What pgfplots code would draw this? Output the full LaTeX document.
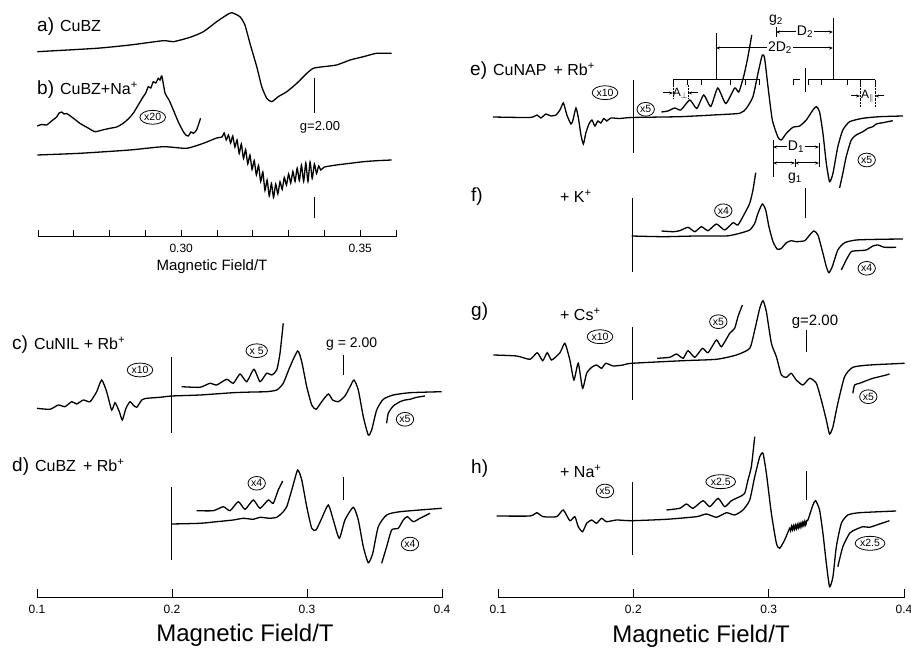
\documentclass[border=0pt]{standalone}
\usepackage{pgfplots}
\pgfplotsset{compat=1.18}
\usepackage{fontspec}
\setmainfont{Liberation Sans}
\usetikzlibrary{shapes.geometric,arrows.meta}
\newcommand{\fs}[1]{\fontsize{#1}{#1}\selectfont}
\newcommand{\pl}[2]{{\fs{19}#1}\hspace{6pt}{\fs{16}#2}}
\pgfplotsset{
  spec/.style={scale only axis, clip=false, anchor=south west,
    axis x line*=bottom, axis y line=none, xtick align=inside,
    axis line style={line width=1pt,-}, major tick style={line width=1pt,black},
    xticklabel style={font=\fs{12}, yshift=-4pt},
    cycle list={{black,mark=none,solid}},
    every axis plot/.append style={line width=1.3pt, smooth, tension=0.35}},
}
\tikzset{
  ov/.style={draw, ellipse, inner xsep=0.6pt, inner ysep=1.2pt, line width=0.8pt, font=\fs{10.5}},
  ml/.style={line width=1pt},
  tx/.style={inner sep=0pt},
  >={Stealth[length=4pt,width=3pt]},
}
\begin{document}
\begin{tikzpicture}[x=1pt,y=1pt]
\path[use as bounding box] (0,0) rectangle (911,648);
% ---------------- top-left: a, b
\begin{axis}[spec, at={(38pt,411pt)}, width=358pt, height=237pt,
  xmin=0.26, xmax=0.36, ymin=-237, ymax=0, major tick length=7pt,
  xtick={0.26,0.27,0.28,0.29,0.30,0.31,0.32,0.33,0.34,0.35,0.36},
  xticklabels={,,,,0.30,,,,,0.35,}]
\addplot coordinates {(0.2598,-51.7)(0.2764,-48.3)(0.2857,-45)(0.2950,-40.7)(0.2978,-41.7)(0.3025,-37.3)(0.3062,-31.7)(0.3099,-21.7)(0.3127,-15)(0.3141,-12.7)(0.3164,-16.7)(0.3178,-25)(0.3192,-43.3)(0.3211,-66.7)(0.3225,-86.7)(0.3239,-98.3)(0.3253,-101.7)(0.3271,-96.7)(0.3295,-91.7)(0.3323,-83.3)(0.3351,-73.3)(0.3369,-68.3)(0.3397,-66.7)(0.3434,-65)(0.3472,-60)(0.3509,-56.7)(0.3546,-53.3)(0.3588,-53.3)};
\addplot coordinates {(0.2598,-126)(0.2610,-124.5)(0.2624,-125)(0.2638,-121)(0.2652,-117)(0.2659,-113)(0.2666,-112)(0.2673,-114)(0.2680,-113.5)(0.2698,-118)(0.2717,-123.3)(0.2740,-128)(0.2759,-131.7)(0.2780,-130)(0.2801,-128.3)(0.2820,-127)(0.2838,-123.3)(0.2852,-119)(0.2866,-113.3)(0.2880,-105)(0.2894,-96.7)(0.2901,-93)(0.2908,-86.7)(0.2915,-88)(0.2922,-81.7)(0.2929,-83)(0.2936,-78.3)(0.2941,-80)(0.2946,-76)(0.2955,-93.3)(0.2966,-100)(0.2978,-110)(0.2992,-122)(0.3006,-131.7)(0.3013,-135)(0.3020,-136)(0.3027,-132)(0.3034,-133.3)(0.3043,-130)(0.3054,-118.3)};
\addplot coordinates {(0.2598,-155)(0.2717,-153.3)(0.2857,-150)(0.2950,-146.7)(0.3015,-148.3)(0.3062,-143.3)(0.3099,-138)
(0.3114,-137)(0.3120,-133)(0.3126,-140)(0.3132,-135)(0.3138,-143)(0.3144,-136)(0.3150,-147)(0.3156,-140)(0.3162,-153.5)(0.3168,-144)(0.3174,-158.5)(0.3180,-149.5)(0.3186,-164)(0.3192,-155)(0.3198,-169.5)(0.3204,-160.5)(0.3210,-175)(0.3216,-165.5)(0.3222,-181.5)(0.3228,-172)(0.3234,-190.5)(0.3240,-180)(0.3246,-196)(0.3252,-183.5)(0.3258,-197.5)(0.3264,-184)(0.3270,-194)(0.3276,-181.7)(0.3282,-189.5)(0.3288,-177.5)(0.3294,-185)(0.3300,-174)(0.3306,-183)(0.3312,-171.5)(0.3318,-181.5)(0.3324,-168)(0.3330,-180.5)(0.3336,-165)(0.3342,-181.5)(0.3348,-163)(0.3354,-181.5)(0.3360,-162)(0.3366,-178.5)(0.3372,-164)(0.3378,-173.5)(0.3384,-166)(0.3390,-170)
(0.3400,-167)(0.3434,-165)(0.3472,-163.3)(0.3509,-161.7)(0.3546,-160.7)(0.3588,-160)};
\end{axis}
% ---------------- bottom-left: c, d
\begin{axis}[spec, at={(37pt,50pt)}, width=405pt, height=278pt,
  xmin=0.1, xmax=0.4, ymin=-598, ymax=-320, major tick length=9pt,
  xtick={0.1,0.2,0.3,0.4}, xticklabels={0.1,0.2,0.3,0.4}]
\addplot coordinates {(0.1000,-408.3)(0.1096,-409.3)(0.1158,-405)(0.1207,-406.7)(0.1257,-401.7)(0.1294,-404)(0.1343,-400)(0.1393,-401.7)(0.1442,-391.7)(0.1479,-380)(0.1516,-391.7)(0.1553,-410)(0.1578,-402.7)(0.1610,-411.7)(0.1632,-420)(0.1659,-408.3)(0.1689,-401.7)(0.1713,-405)(0.1739,-407.3)(0.1776,-400)(0.1813,-398.3)(0.1911,-397.3)(0.1998,-396)(0.2207,-395)(0.2454,-392.7)(0.2602,-392)(0.2701,-391.7)(0.2776,-390)(0.2824,-383.3)(0.2874,-366.7)(0.2931,-351)(0.2961,-361.7)(0.2998,-386.7)(0.3035,-405)(0.3067,-409.3)(0.3109,-401.7)(0.3158,-394)(0.3190,-400)(0.3232,-401.7)(0.3281,-396)(0.3319,-386.7)(0.3348,-380)(0.3380,-390)(0.3417,-416.7)(0.3454,-435)(0.3479,-430)(0.3516,-410)(0.3565,-399.3)(0.3639,-395)(0.3763,-392.7)(0.3998,-391.7)};
\addplot coordinates {(0.2072,-386.7)(0.2207,-387.3)(0.2281,-383.3)(0.2331,-385)(0.2405,-379.3)(0.2454,-383.3)(0.2504,-374)(0.2553,-381.7)(0.2607,-369.3)(0.2652,-381.7)(0.2701,-373.3)(0.2739,-375)(0.2776,-370)(0.2800,-353.3)(0.2824,-323.3)};
\addplot coordinates {(0.3590,-423.3)(0.3602,-413.3)(0.3639,-406)(0.3689,-401.7)(0.3726,-400)(0.3763,-399.3)(0.3813,-397.3)(0.3874,-396)};
\addplot coordinates {(0.1998,-524)(0.2207,-523.3)(0.2331,-521.7)(0.2454,-520)(0.2528,-518.3)(0.2602,-519.3)(0.2652,-517.3)(0.2726,-518.3)(0.2776,-517.3)(0.2813,-513.3)(0.2850,-506.7)(0.2894,-486.7)(0.2931,-470)(0.2961,-480)(0.2998,-506.7)(0.3035,-528.3)(0.3067,-530)(0.3109,-518.3)(0.3158,-505)(0.3195,-520)(0.3239,-538.3)(0.3281,-520)(0.3343,-507.3)(0.3380,-520)(0.3417,-546.7)(0.3454,-562.7)(0.3487,-553.3)(0.3528,-526.7)(0.3590,-515)(0.3689,-511.7)(0.3998,-508.3)};
\addplot coordinates {(0.2183,-510.7)(0.2306,-510.7)(0.2380,-506.7)(0.2430,-510.7)(0.2491,-501.7)(0.2541,-509.3)(0.2602,-500)(0.2652,-508.3)(0.2713,-500)(0.2750,-503.3)(0.2787,-490)(0.2820,-481)};
\addplot coordinates {(0.3553,-563.3)(0.3590,-546.7)(0.3627,-530)(0.3676,-528.3)(0.3713,-520)(0.3743,-516.7)(0.3787,-521.7)(0.3837,-518.3)(0.3911,-513.3)};
\end{axis}
% ---------------- right: e, f, g, h
\begin{axis}[spec, at={(498pt,50pt)}, width=406pt, height=598pt,
  xmin=0.1, xmax=0.4, ymin=-598, ymax=0, major tick length=9pt,
  xtick={0.1,0.2,0.3,0.4}, xticklabels={0.1,0.2,0.3,0.4}]
% e
\addplot coordinates {(0.0963,-117)(0.1236,-117.5)(0.1288,-115)(0.1317,-118)(0.1354,-114)(0.1391,-116)(0.1428,-115)(0.1458,-110)(0.1483,-103)(0.1509,-115)(0.1539,-124)(0.1554,-120)(0.1576,-108)(0.1594,-118)(0.1613,-135)(0.1631,-144)(0.1649,-133)(0.1672,-124)(0.1694,-120)(0.1716,-126)(0.1738,-121)(0.1760,-123)(0.1782,-118.5)(0.1804,-121)(0.1834,-118)(0.1900,-118.5)(0.1989,-117.5)(0.2343,-116.7)(0.2589,-115)(0.2786,-113.3)(0.2835,-108.3)(0.2884,-96.7)(0.2921,-73.3)(0.2953,-55)(0.2970,-58.3)(0.2995,-86.7)(0.3027,-120)(0.3069,-137.3)(0.3094,-140)(0.3131,-133.3)(0.3179,-127.3)(0.3229,-126)(0.3278,-120)(0.3327,-110)(0.3352,-106.7)(0.3376,-111.7)(0.3401,-133.3)(0.3426,-163.3)(0.3450,-181.7)(0.3475,-173.3)(0.3511,-146.7)(0.3548,-130)(0.3598,-121.7)(0.3696,-118.3)(0.3819,-116.7)(0.3991,-116)};
\addplot coordinates {(0.2208,-112)(0.2255,-111)(0.2306,-108)(0.2351,-110)(0.2417,-100)(0.2469,-108.5)(0.2520,-95)(0.2572,-106.5)(0.2624,-88)(0.2683,-103.5)(0.2749,-88)(0.2779,-92)(0.2816,-76)(0.2845,-58)(0.2875,-35)};
\addplot coordinates {(0.3524,-188)(0.3548,-173.3)(0.3573,-156.7)(0.3610,-140)(0.3647,-135)(0.3696,-131.7)(0.3733,-128.3)(0.3770,-126.7)(0.3795,-124)(0.3844,-122.7)(0.3917,-120.7)};
% f
\addplot coordinates {(0.1987,-236)(0.2220,-236.7)(0.2466,-236)(0.2688,-236)(0.2786,-233.3)(0.2860,-230)(0.2897,-223.3)(0.2921,-213.3)(0.2953,-204)(0.2978,-210)(0.3002,-226.7)(0.3032,-241.7)(0.3064,-249.3)(0.3094,-248.3)(0.3131,-242.7)(0.3167,-240.7)(0.3204,-241.7)(0.3266,-240.7)(0.3303,-235)(0.3334,-231)(0.3364,-235)(0.3401,-253.3)(0.3426,-266.7)(0.3445,-272.7)(0.3470,-266.7)(0.3511,-250)(0.3561,-242.7)(0.3647,-240)(0.3819,-239.3)(0.3991,-239)};
\addplot coordinates {(0.2208,-231)(0.2294,-231.7)(0.2343,-230.7)(0.2404,-227.3)(0.2454,-231.7)(0.2503,-226.7)(0.2552,-230.7)(0.2614,-224)(0.2675,-230)(0.2737,-222.7)(0.2773,-225)(0.2823,-213.3)(0.2860,-203.3)(0.2884,-190)(0.2904,-172.7)};
\addplot coordinates {(0.3537,-270)(0.3573,-260)(0.3610,-251.7)(0.3659,-250.7)(0.3721,-250)(0.3770,-246)(0.3807,-245)(0.3856,-247.3)(0.3942,-247.3)};
% g
\addplot coordinates {(0.0965,-355)(0.1138,-356)(0.1236,-359.3)(0.1290,-352.7)(0.1330,-360.7)(0.1364,-352.7)(0.1396,-360)(0.1458,-352.7)(0.1494,-343.3)(0.1531,-360)(0.1561,-380)(0.1593,-363.3)(0.1625,-388.3)(0.1655,-373.3)(0.1692,-367.3)(0.1728,-365)(0.1765,-368.3)(0.1797,-363.3)(0.1851,-366)(0.1925,-365)(0.1987,-363.3)(0.2368,-360.7)(0.2614,-359.3)(0.2762,-355)(0.2860,-348.3)(0.2897,-330)(0.2934,-308.3)(0.2958,-300.7)(0.2983,-311.7)(0.3020,-343.3)(0.3057,-356.7)(0.3094,-375)(0.3131,-377.3)(0.3167,-373.3)(0.3204,-380)(0.3253,-385)(0.3303,-378.3)(0.3352,-383.3)(0.3389,-400)(0.3426,-420)(0.3450,-434)(0.3475,-426.7)(0.3511,-403.3)(0.3561,-376.7)(0.3622,-367.3)(0.3745,-365)(0.4004,-363.3)};
\addplot coordinates {(0.2176,-358.3)(0.2269,-357.3)(0.2319,-354)(0.2368,-358.3)(0.2404,-350.7)(0.2454,-357.3)(0.2511,-348.3)(0.2552,-352.7)(0.2614,-340)(0.2651,-346.7)(0.2712,-333.3)(0.2749,-328.3)(0.2773,-316.7)(0.2806,-305)};
\addplot coordinates {(0.3622,-393.3)(0.3635,-385)(0.3672,-383.3)(0.3721,-380.7)(0.3770,-378.3)(0.3819,-376.7)(0.3869,-375)(0.3893,-374)};
% h
\addplot coordinates {(0.0990,-516)(0.1236,-516)(0.1286,-512.7)(0.1334,-516.7)(0.1433,-516.7)(0.1482,-510)(0.1531,-520.7)(0.1568,-516.7)(0.1593,-526.7)(0.1625,-531.7)(0.1655,-523.3)(0.1692,-520)(0.1728,-523.3)(0.1765,-518.3)(0.1802,-521.7)(0.1876,-520)(0.1987,-520.7)(0.2245,-519.3)(0.2466,-516.7)(0.2540,-514)(0.2614,-517.3)(0.2688,-512.7)(0.2749,-515)(0.2810,-510)(0.2860,-500)(0.2897,-476.7)(0.2934,-456.7)(0.2958,-453.3)(0.2983,-473.3)(0.3020,-513.3)(0.3057,-543.3)(0.3081,-548.3)(0.3118,-540)(0.3155,-528.3)
(0.3162,-530.5)(0.3169,-526)(0.3176,-530)(0.3183,-525.5)(0.3190,-529.5)(0.3197,-525)(0.3204,-529)(0.3211,-524.3)(0.3218,-528.2)(0.3225,-523.6)(0.3232,-527.5)(0.3239,-522.8)(0.3246,-526.7)(0.3253,-522)(0.3260,-525.8)(0.3267,-521.2)(0.3274,-525)(0.3281,-520.6)
(0.3290,-520)(0.3327,-505)(0.3347,-500.7)(0.3376,-510)(0.3401,-533.3)(0.3426,-563.3)(0.3450,-586.7)(0.3475,-576.7)(0.3500,-546.7)(0.3537,-523.3)(0.3585,-515)(0.3672,-512.7)(0.3942,-511)};
\addplot coordinates {(0.2245,-510)(0.2343,-508.3)(0.2393,-504)(0.2441,-508.3)(0.2515,-500.7)(0.2565,-506.7)(0.2626,-498.3)(0.2675,-506.7)(0.2725,-500.7)(0.2786,-496.7)(0.2823,-493.3)(0.2847,-480)(0.2872,-466.7)(0.2897,-436.7)};
\addplot coordinates {(0.3511,-566.7)(0.3548,-546.7)(0.3598,-533.3)(0.3635,-530)(0.3696,-526.7)(0.3745,-527.3)(0.3819,-524)(0.3893,-520.7)};
\end{axis}
% ---------------- annotations: top-left
\node[tx,anchor=west] at (37,621) {\pl{a)}{CuBZ}};
\node[tx,anchor=west] at (37,558) {\pl{b)}{CuBZ+Na\textsuperscript{+}}};
\node[ov] at (152.7,530.7) {x20};
\draw[ml] (314,570)--(314,535);
\draw[ml] (314,451)--(314,430);
\node[tx,font=\fs{13}] at (320,521) {g=2.00};
\node[anchor=base,font=\fs{15}] at (212,377) {Magnetic Field/T};
% bottom-left
\node[tx,anchor=west] at (12,303) {\pl{c)}{CuNIL + Rb\textsuperscript{+}}};
\node[tx,anchor=west] at (12,181) {\pl{d)}{CuBZ \,+ Rb\textsuperscript{+}}};
\node[ov] at (140,278) {x10};
\node[ov] at (256.7,297.3) {x 5};
\node[ov] at (405,228.7) {x5};
\node[ov] at (256.7,164.7) {x4};
\node[ov] at (410,104) {x4};
\node[tx,font=\fs{14}] at (351.7,304) {g = 2.00};
\draw[ml] (343.3,293)--(343.3,273);
\draw[ml] (343.3,171)--(343.3,148);
\draw[ml] (171.3,291)--(171.3,215);
\draw[ml] (171.7,161)--(171.7,88);
\node[anchor=base,font=\fs{24}] at (245,6.5) {Magnetic Field/T};
% right
\node[tx,anchor=west] at (470,577) {\pl{e)}{CuNAP \,+ Rb\textsuperscript{+}}};
\node[tx,anchor=west] at (471,451) {\fs{19}f)};
\node[tx,anchor=west] at (560,452) {\fs{16}+ K\textsuperscript{+}};
\node[tx,anchor=west] at (471,336) {\fs{19}g)};
\node[tx,anchor=west] at (560,334) {\fs{16}+ Cs\textsuperscript{+}};
\node[tx,anchor=west] at (471,179) {\fs{19}h)};
\node[tx,anchor=west] at (560,177) {\fs{16}+ Na\textsuperscript{+}};
\node[ov] at (605,555.3) {x10};
\node[ov] at (645.7,538.7) {x5};
\node[ov] at (866.7,488) {x5};
\node[ov] at (723.3,437.3) {x4};
\node[ov] at (866.7,379.7) {x4};
\node[ov] at (600,311.3) {x10};
\node[ov] at (718.3,326.3) {x5};
\node[ov] at (868.3,251.3) {x5};
\node[ov] at (605,157) {x5};
\node[ov] at (720.7,166.3) {x2.5};
\node[ov] at (870,104.7) {x2.5};
\node[tx,font=\fs{15}] at (815,326.3) {g=2.00};
\draw[ml] (633,568)--(633,495);
\draw[ml] (632,450)--(632,376);
\draw[ml] (632,321)--(632,248);
\draw[ml] (632,166)--(632,93);
\draw[ml] (805,460)--(805,430);
\draw[ml] (806,318)--(806,296);
\draw[ml] (806,177)--(806,148);
% e structure annotations
\node[tx,font=\fs{14}] at (776,628) {g\textsubscript{2}};
\draw[ml] (776,621)--(776,611);
\draw[ml,<->] (776,616)--(833,616);
\node[fill=white,inner sep=1pt,font=\fs{14}] at (805,616) {D\textsubscript{2}};
\draw[ml] (833,630)--(833,568);
\draw[ml,<->] (716,600)--(833,600);
\node[fill=white,inner sep=1pt,font=\fs{14}] at (780,600) {2D\textsubscript{2}};
\draw[ml] (716,615)--(716,568);
\draw[ml] (673,568)--(760,568);
\foreach \t in {673,687,701,730,745,759} \draw[ml] (\t,568)--(\t,563);
\draw[densely dotted] (673,563)--(673,549) (688,563)--(688,549);
\draw[ml,->] (663,555)--(673,555);
\draw[ml,->] (698,555)--(688,555);
\node[tx,font=\fs{12}] at (680.5,555) {A\textsubscript{$\perp$}};
\draw[ml] (793,563)--(793,568)--(800,568);
\draw[ml] (805,580)--(805,556);
\draw[ml] (808,568)--(875,568);
\foreach \t in {808,821,847,860,875} \draw[ml] (\t,568)--(\t,563);
\draw[densely dotted] (860,563)--(860,541) (875,563)--(875,541);
\draw[ml,->] (851,552)--(860,552);
\draw[ml,->] (884,552)--(875,552);
\node[tx,font=\fs{12}] at (867.5,552) {A\textsubscript{$\parallel$}};
\draw[ml] (773,508)--(773,471);
\draw[ml,<->] (773,501)--(819,501);
\node[fill=white,inner sep=1pt,font=\fs{14}] at (796,501) {D\textsubscript{1}};
\draw[ml] (819,505)--(819,481);
\draw[ml,<->] (773,485)--(795,485);
\draw[ml,<->] (795,485)--(819,485);
\draw[ml] (795,489)--(795,481);
\node[tx,font=\fs{14}] at (795,470) {g\textsubscript{1}};
\node[anchor=base,font=\fs{24}] at (701,5) {Magnetic Field/T};
\end{tikzpicture}
\end{document}
